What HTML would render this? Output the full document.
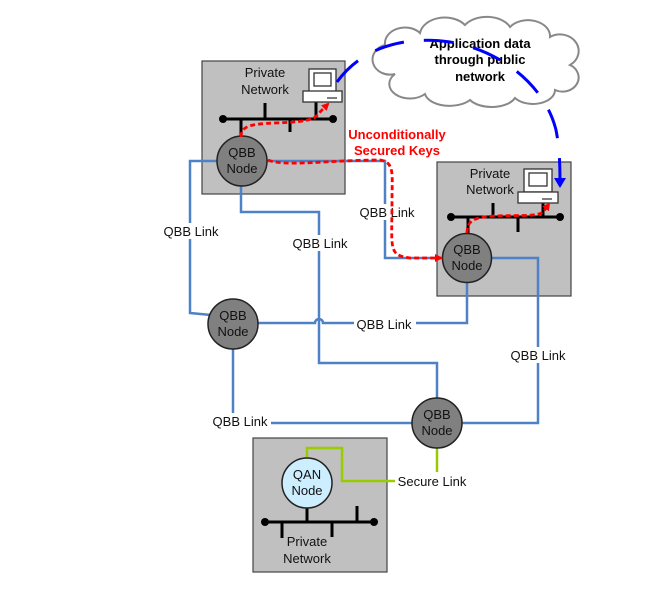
<!DOCTYPE html>
<html><head><meta charset="utf-8"><style>
html,body{margin:0;padding:0;background:#fff;}
svg{display:block;font-family:"Liberation Sans",Arial,sans-serif;}
</style></head><body>
<svg width="654" height="590" viewBox="0 0 654 590" xmlns="http://www.w3.org/2000/svg">
<defs>
<marker id="ar" markerWidth="8" markerHeight="8" refX="6" refY="4" orient="auto" markerUnits="userSpaceOnUse"><path d="M0,0 L8,4 L0,8 z" fill="#f00"/></marker>
<marker id="ab" markerWidth="10" markerHeight="12" refX="8" refY="6" orient="auto" markerUnits="userSpaceOnUse"><path d="M0,0 L10,6 L0,12 z" fill="#00f"/></marker>
</defs>
<!-- boxes -->
<rect x="202" y="61" width="143" height="133" fill="#c0c0c0" stroke="#444" stroke-width="1.2"/>
<rect x="437" y="162" width="134" height="134" fill="#c0c0c0" stroke="#444" stroke-width="1.2"/>
<rect x="253" y="438" width="134" height="134" fill="#c0c0c0" stroke="#444" stroke-width="1.2"/>

<!-- cloud -->
<path d="M385,45 a20,16 0 0 1 35,-12 a25,18 0 0 1 45,-8 a25,16 0 0 1 45,2 a22,16 0 0 1 40,10 a18,16 0 0 1 20,28 a16,14 0 0 1 -15,25 a22,14 0 0 1 -40,8 a25,14 0 0 1 -45,2 a25,14 0 0 1 -45,-6 a20,14 0 0 1 -30,-20 a15,13 0 0 1 -10,-29 z" fill="#fff" stroke="#888" stroke-width="2"/>
<text font-size="13" font-weight="bold" text-anchor="middle" fill="#000"><tspan x="480" y="48">Application data</tspan><tspan x="480" y="64">through public</tspan><tspan x="480" y="81">network</tspan></text>

<!-- blue links -->
<g fill="none" stroke="#4f81c7" stroke-width="2.5">
<path d="M267,161 H385 V258 H443"/>
<path d="M217,161 H190 V313 L211,315"/>
<path d="M241,185 V212 H319 V363 H437 V398"/>
<path d="M492,258 H538 V423 H462"/>
<path d="M467,283 V323 H323 a4,4 0 0 0 -8,0 H258"/>
<path d="M233,349 V423 H412"/>
</g>
<!-- green -->
<g fill="none" stroke="#9c0" stroke-width="2.5">
<path d="M307,458 V448 H342 V481 H395"/>
<path d="M437,448 V472"/>
</g>

<!-- link labels -->
<g font-size="13" text-anchor="middle" fill="#111">
<rect x="160" y="223" width="62" height="16" fill="#fff"/><text x="191" y="236">QBB Link</text>
<rect x="289" y="235" width="62" height="16" fill="#fff"/><text x="320" y="248">QBB Link</text>
<rect x="356" y="204" width="62" height="16" fill="#fff"/><text x="387" y="217">QBB Link</text>
<rect x="354" y="316" width="62" height="16" fill="#fff"/><text x="384" y="329">QBB Link</text>
<rect x="507" y="347" width="62" height="16" fill="#fff"/><text x="538" y="360">QBB Link</text>
<rect x="209" y="413" width="62" height="16" fill="#fff"/><text x="240" y="426">QBB Link</text>
<text x="432" y="486">Secure Link</text>
</g>

<!-- bus 1 -->
<g stroke="#000" stroke-width="3" fill="none">
<path d="M223,119 H333 M265,103 V119 M290,119 V132 M241,119 V137 M316,102 V119"/>
<path d="M451,217 H560 M493,203 V217 M518,217 V232 M468,217 V233 M543,203 V217"/>
<path d="M265,522 H374 M307,508 V522 M282,522 V538 M332,522 V537 M357,506 V522"/>
</g>
<g fill="#000"><circle cx="223" cy="119" r="4"/><circle cx="333" cy="119" r="4"/><circle cx="451" cy="217" r="4"/><circle cx="560" cy="217" r="4"/><circle cx="265" cy="522" r="4"/><circle cx="374" cy="522" r="4"/></g>

<!-- computers -->
<g fill="#fff" stroke="#333" stroke-width="1.3">
<rect x="309" y="69" width="27" height="23"/><rect x="314" y="73" width="17" height="13"/><rect x="303" y="91" width="39" height="11"/>
<rect x="524" y="169" width="28" height="23"/><rect x="529" y="173" width="18" height="13"/><rect x="518" y="192" width="40" height="11"/>
</g>
<path d="M327,98 H337 M542,199 H552" stroke="#333" stroke-width="1.2"/>

<g font-size="13" text-anchor="middle" fill="#111">
<text x="265" y="77">Private</text><text x="265" y="94">Network</text>
<text x="490" y="178">Private</text><text x="490" y="194">Network</text>
<text x="307" y="546">Private</text><text x="307" y="563">Network</text>
</g>

<!-- nodes -->
<g stroke="#222" stroke-width="1.5">
<circle cx="242" cy="161" r="25" fill="#808080"/>
<circle cx="467" cy="258" r="24.5" fill="#808080"/>
<circle cx="233" cy="324" r="25" fill="#808080"/>
<circle cx="437" cy="423" r="25" fill="#808080"/>
<circle cx="307" cy="483" r="25" fill="#cdeeff"/>
</g>
<g font-size="13" text-anchor="middle" fill="#111">
<text x="242" y="157">QBB</text><text x="242" y="173">Node</text>
<text x="467" y="254">QBB</text><text x="467" y="270">Node</text>
<text x="233" y="320">QBB</text><text x="233" y="336">Node</text>
<text x="437" y="419">QBB</text><text x="437" y="435">Node</text>
<text x="307" y="479">QAN</text><text x="307" y="495">Node</text>
</g>

<!-- red dashed -->
<g fill="none" stroke="#f00" stroke-width="2.8" stroke-dasharray="5,3">
<path d="M241,137 C241,126 250,124 275,123 C300,122 315,121 319,113 L328,104" marker-end="url(#ar)"/>
<path d="M268,160 C285,167 330,160 380,160 C395,162 392,175 392,200 C392,250 388,255 410,258 L441,258" marker-end="url(#ar)"/>
<path d="M467,233 C467,220 475,217 495,216 C520,215 540,217 544,211 L549,204" marker-end="url(#ar)"/>
</g>
<text font-size="13" font-weight="bold" text-anchor="middle" fill="#f00"><tspan x="397" y="139">Unconditionally</tspan><tspan x="397" y="155">Secured Keys</tspan></text>

<!-- blue dashed -->
<path d="M337,82 C360,50 400,35 450,42 C500,50 545,85 556,130 C560,150 560,170 560,186" fill="none" stroke="#00f" stroke-width="3" stroke-dasharray="30,20" marker-end="url(#ab)"/>
</svg>
</body></html>
